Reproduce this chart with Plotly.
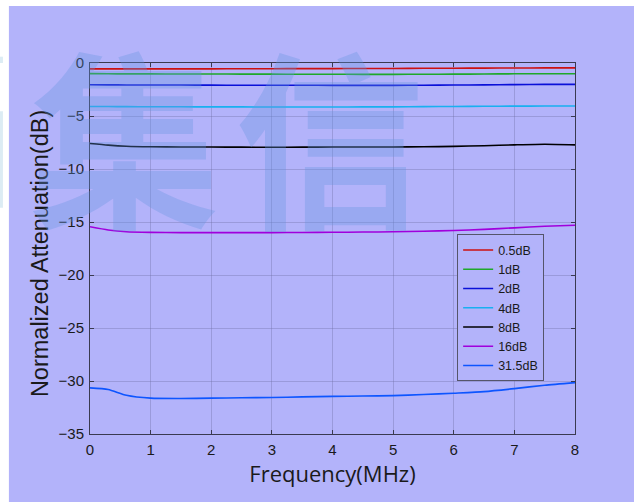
import plotly.graph_objects as go

freq = [0, 0.3, 0.6, 1, 1.5, 2, 2.5, 3, 3.5, 4, 4.5, 5, 5.5, 6, 6.5, 7, 7.5, 8]

names = ["0.5dB", "1dB", "2dB", "4dB", "8dB", "16dB", "31.5dB"]
colors = ["#cc1010", "#1fa82a", "#0a10d8", "#18b0f0", "#000000", "#a000dc", "#0d55ff"]

att_05 = [-0.55, -0.55, -0.55, -0.55, -0.55, -0.55, -0.54, -0.54, -0.53, -0.53, -0.52, -0.52, -0.5, -0.49, -0.48, -0.47, -0.46, -0.46]
att_1 = [-1.0, -1.02, -1.03, -1.03, -1.04, -1.04, -1.05, -1.05, -1.06, -1.06, -1.07, -1.07, -1.06, -1.05, -1.04, -1.02, -1.01, -1.01]
att_2 = [-2.05, -2.06, -2.07, -2.08, -2.08, -2.09, -2.1, -2.1, -2.1, -2.11, -2.11, -2.11, -2.1, -2.08, -2.06, -2.04, -2.02, -2.02]
att_4 = [-4.1, -4.11, -4.12, -4.13, -4.13, -4.14, -4.14, -4.15, -4.15, -4.15, -4.14, -4.14, -4.12, -4.1, -4.08, -4.07, -4.06, -4.06]
att_8 = [-7.6, -7.75, -7.85, -7.9, -7.92, -7.93, -7.94, -7.95, -7.94, -7.93, -7.92, -7.92, -7.9, -7.87, -7.8, -7.72, -7.66, -7.72]
att_16 = [-15.45, -15.75, -15.92, -15.98, -16.0, -16.0, -16.0, -16.0, -15.99, -15.97, -15.95, -15.92, -15.87, -15.8, -15.7, -15.55, -15.4, -15.3]
att_315 = [-30.65, -30.8, -31.35, -31.62, -31.65, -31.62, -31.58, -31.55, -31.5, -31.45, -31.42, -31.38, -31.28, -31.15, -31.0, -30.72, -30.4, -30.15]

series = [att_05, att_1, att_2, att_4, att_8, att_16, att_315]

xticks = [0, 1, 2, 3, 4, 5, 6, 7, 8]
yticks = [0, -5, -10, -15, -20, -25, -30, -35]

BG = "#b3b3fa"

fig = go.Figure()
for name, col, ys in zip(names, colors, series):
    fig.add_trace(go.Scatter(x=freq, y=ys, mode="lines", name=name,
                             line=dict(color=col, width=1.6, shape="spline", smoothing=0.6)))

axis_common = dict(
    showline=True, linecolor="#3a3a50", linewidth=1, mirror="ticks",
    ticks="inside", ticklen=4, tickcolor="#3a3a50",
    showgrid=True, gridcolor="rgba(110,110,160,0.35)", gridwidth=1,
    zeroline=False, ticklabelstandoff=2,
    tickfont=dict(family="Liberation Sans, Arial", size=15, color="#1a1a1a"),
)

fig.update_xaxes(range=[0, 8], tickvals=xticks, **axis_common,
                 title=dict(text="Frequency(MHz)", standoff=4,
                            font=dict(family="Open Sans", size=22, color="#1a1a1a")))
fig.update_yaxes(range=[-35, 0], tickvals=yticks, **axis_common)

# y-axis title (placed as annotation to match reference offset)
fig.add_annotation(text="Normalized Attenuation(dB)", xref="paper", yref="paper",
                   x=-0.103, y=0.485, xanchor="center", yanchor="middle", textangle=-90,
                   showarrow=False,
                   font=dict(family="Liberation Sans, Arial", size=23.5, color="#1a1a1a"))

# watermark
for ch, px in [("集", 0.072), ("信", 0.495)]:
    fig.add_annotation(text=ch, xref="paper", yref="paper", x=px, y=0.815,
                       xanchor="center", yanchor="middle", showarrow=False,
                       font=dict(family="Noto Sans CJK SC", size=190, color="rgba(100,150,225,0.33)", weight="bold"))

# white border strips and logo fragments
fig.add_shape(type="rect", xref="paper", yref="paper", x0=-0.2, x1=-0.1672, y0=-0.25, y1=1.25,
              fillcolor="white", line_width=0, layer="above")
fig.add_shape(type="rect", xref="paper", yref="paper", x0=-0.2, x1=1.25, y0=1.1536, y1=1.25,
              fillcolor="white", line_width=0, layer="above")
fig.add_shape(type="rect", xref="paper", yref="paper", x0=-0.2, x1=-0.1795, y0=1.0, y1=1.017,
              fillcolor="#dcecf4", line_width=0, layer="above")
fig.add_shape(type="rect", xref="paper", yref="paper", x0=-0.2, x1=-0.1795, y0=0.61, y1=0.87,
              fillcolor="#dcecf4", line_width=0, layer="above")

fig.update_layout(
    width=634, height=502,
    margin=dict(l=90, r=59, t=63, b=68),
    paper_bgcolor=BG, plot_bgcolor=BG,
    showlegend=True,
    legend=dict(x=0.757, y=0.538, xanchor="left", yanchor="top",
                bgcolor=BG, bordercolor="#55556a", borderwidth=1,
                font=dict(family="Liberation Sans, Arial", size=12.5, color="#1a1a1a"),
                itemwidth=30, tracegroupgap=0),
)

fig.write_html("out.html")
